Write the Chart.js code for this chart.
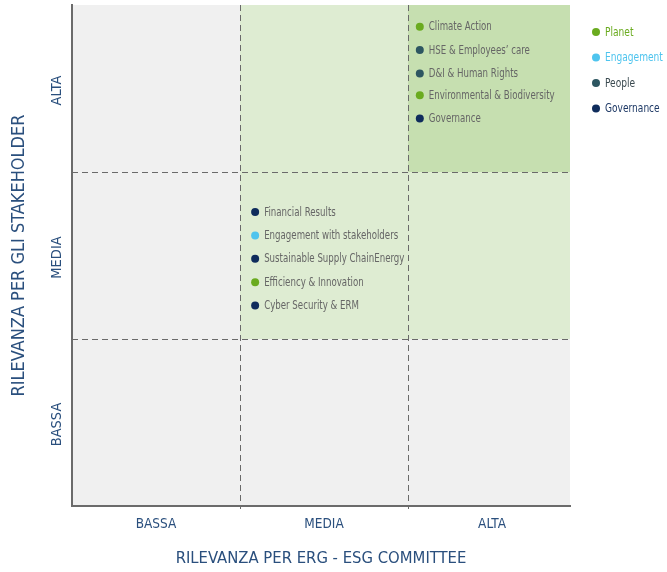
<!DOCTYPE html>
<html><head><meta charset="utf-8">
<script src="https://cdn.jsdelivr.net/npm/chart.js@4.4.0/dist/chart.umd.min.js"></script>
<style>html,body{margin:0;padding:0;background:#fff}#wrap{width:667px;height:572px;position:relative}</style>
</head><body><div id="wrap"><canvas id="c" width="667" height="572"></canvas></div>
<script>
const levels = ['BASSA', 'MEDIA', 'ALTA'];
const xTitle = 'RILEVANZA PER ERG - ESG COMMITTEE';
const yTitle = 'RILEVANZA PER GLI STAKEHOLDER';
const groups = ['Planet', 'Engagement', 'People', 'Governance'];
const groupColors = ['#6aab1f', '#4ec4ee', '#2d5661', '#0f2c5c'];
const groupTextColors = ['#6aab1f', '#4ec4ee', '#3b4a50', '#1f3a66'];
const topics = ['Climate Action', 'HSE & Employees\u2019 care', 'D&I & Human Rights', 'Environmental & Biodiversity', 'Governance',
  'Financial Results', 'Engagement with stakeholders', 'Sustainable Supply ChainEnergy', 'Efficiency & Innovation', 'Cyber Security & ERM'];
const topicGroup = ['Planet', 'People', 'People', 'Planet', 'Governance',
  'Governance', 'Engagement', 'Governance', 'Planet', 'Governance'];
const topicX = [2.07, 2.07, 2.07, 2.07, 2.07, 1.09, 1.09, 1.09, 1.09, 1.09];
const topicY = [2.87, 2.73, 2.59, 2.46, 2.32, 1.76, 1.62, 1.48, 1.34, 1.20];
// shading per cell: rows = stakeholder level (BASSA..ALTA), cols = committee level (BASSA..ALTA)
const cellShade = [[0, 0, 0], [0, 1, 1], [0, 1, 2]];
const shadeColors = ['#f0f0f0', '#deecd2', '#c6dfb0'];

const FONT = "'DejaVu Sans Condensed', 'DejaVu Sans', sans-serif";
const axisColor = '#2a4f7d';

const datasets = groups.map((g, gi) => ({
  label: g,
  data: topics.map((t, i) => ({ x: topicX[i], y: topicY[i], label: t, g: topicGroup[i] })).filter(p => p.g === g),
  backgroundColor: groupColors[gi],
  borderWidth: 0,
  pointRadius: 4,
  pointHoverRadius: 4
}));

function narrowText(ctx, text, x, y, sx) {
  ctx.save();
  ctx.translate(x, y);
  ctx.scale(sx, 1);
  ctx.fillText(text, 0, 0);
  ctx.restore();
}

const matrixPlugin = {
  id: 'matrix',
  beforeDraw(chart) {
    const { ctx } = chart;
    const xs = chart.scales.x, ys = chart.scales.y;
    ctx.save();
    for (let r = 0; r < 3; r++) {
      for (let c = 0; c < 3; c++) {
        const x0 = xs.getPixelForValue(c), x1 = Math.min(xs.getPixelForValue(c + 1), chart.chartArea.right);
        const y0 = ys.getPixelForValue(r + 1), y1 = ys.getPixelForValue(r);
        ctx.fillStyle = shadeColors[cellShade[r][c]];
        ctx.fillRect(x0, y0, x1 - x0, y1 - y0);
      }
    }
    ctx.strokeStyle = '#6a6a6a';
    ctx.lineWidth = 1;
    ctx.setLineDash([6, 4]);
    for (let v = 1; v < 3; v++) {
      const px = Math.round(xs.getPixelForValue(v)) + 0.5;
      ctx.beginPath(); ctx.moveTo(px, chart.chartArea.top); ctx.lineTo(px, chart.chartArea.bottom + 3); ctx.stroke();
      const py = Math.round(ys.getPixelForValue(v)) + 0.5;
      ctx.beginPath(); ctx.moveTo(chart.chartArea.left, py); ctx.lineTo(chart.chartArea.right, py); ctx.stroke();
    }
    ctx.restore();
  },
  afterDatasetsDraw(chart) {
    const { ctx } = chart;
    ctx.save();
    ctx.font = '12px ' + FONT;
    ctx.fillStyle = '#666666';
    ctx.textBaseline = 'middle';
    ctx.textAlign = 'left';
    chart.data.datasets.forEach((ds, di) => {
      const meta = chart.getDatasetMeta(di);
      meta.data.forEach((el, i) => {
        narrowText(ctx, ds.data[i].label, el.x + 9, el.y + 0.5, 0.8);
      });
    });
    // y tick labels (rotated)
    const ys = chart.scales.y;
    ctx.font = '14.5px ' + FONT;
    ctx.fillStyle = axisColor;
    ctx.textAlign = 'center';
    levels.forEach((l, i) => {
      const py = ys.getPixelForValue(i + 0.5);
      ctx.save();
      ctx.translate(chart.chartArea.left - 15, py + 2);
      ctx.rotate(-Math.PI / 2);
      ctx.fillText(l, 0, 0);
      ctx.restore();
    });
    // legend
    const lx = chart.chartArea.right + 26;
    let ly = chart.chartArea.top + 27;
    ctx.font = '12px ' + FONT;
    ctx.textAlign = 'left';
    chart.data.datasets.forEach((ds, di) => {
      ctx.fillStyle = groupColors[di];
      ctx.beginPath(); ctx.arc(lx, ly, 4, 0, Math.PI * 2); ctx.fill();
      ctx.fillStyle = groupTextColors[di];
      narrowText(ctx, ds.label, lx + 9, ly + 0.5, 0.84);
      ly += 25.5;
    });
    ctx.restore();
  }
};

new Chart(document.getElementById('c'), {
  type: 'scatter',
  data: { datasets },
  plugins: [matrixPlugin],
  options: {
    responsive: false,
    animation: false,
    events: [],
    layout: { padding: { top: 5, right: 97, left: 0, bottom: 0 } },
    plugins: { legend: { display: false }, tooltip: { enabled: false } },
    scales: {
      x: {
        type: 'linear', min: 0, max: 2.964,
        afterBuildTicks: s => { s.ticks = [0.5, 1.5, 2.5].map(v => ({ value: v })); },
        afterFit: s => { s.height = 66; },
        ticks: { callback: v => levels[Math.floor(v)], color: axisColor, font: { family: FONT, size: 13.5 }, padding: 10, maxRotation: 0, autoSkip: false },
        grid: { display: false, drawTicks: false },
        border: { display: true, color: '#6b6b6b', width: 2 },
        title: { display: true, text: xTitle, color: axisColor, font: { family: FONT, size: 16.5 }, padding: { top: 0, bottom: 3 } }
      },
      y: {
        type: 'linear', min: 0, max: 3,
        afterFit: s => { s.width = 72; },
        ticks: { display: false },
        grid: { display: false, drawTicks: false },
        border: { display: true, color: '#6b6b6b', width: 2 },
        title: { display: true, text: yTitle, color: axisColor, font: { family: FONT, size: 18 }, padding: { top: 9, bottom: 0 } }
      }
    }
  }
});
</script>
</body></html>
